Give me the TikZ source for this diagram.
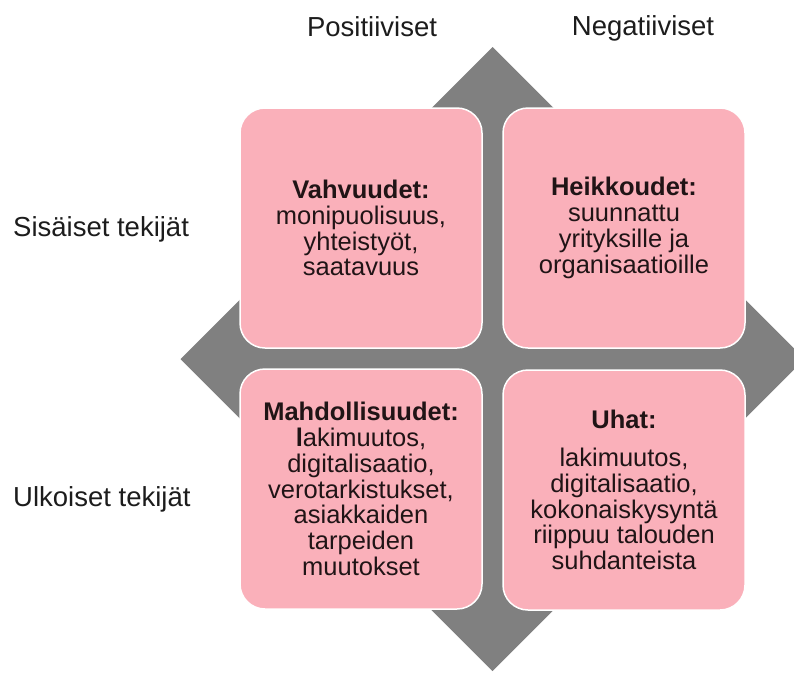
\documentclass[tikz,border=0pt]{standalone}
\usepackage{fontspec}
\setmainfont{Liberation Sans}
\definecolor{swotpink}{RGB}{250,176,186}
\definecolor{swotgray}{RGB}{128,128,128}
\definecolor{swottext}{RGB}{32,20,22}
\definecolor{labeltext}{RGB}{28,28,28}
\tikzset{
  swotbox/.style={draw=white, line width=1.5pt, fill=swotpink, rounded corners=25pt,
    minimum width=242pt, minimum height=240pt, inner sep=0pt, align=center,
    text=swottext, font=\fontsize{25.5}{25.8}\selectfont},
  sidelabel/.style={text=labeltext, inner sep=0pt, font=\fontsize{27.5}{30}\selectfont}
}
\begin{document}
\begin{tikzpicture}[x=1pt,y=-1pt]
\useasboundingbox (0,0) rectangle (794,673);
\clip (0,0) rectangle (794,673);
% gray diamond behind the boxes
\fill[swotgray] (492.5,47) -- (804.5,359) -- (492.5,671) -- (180.5,359) -- cycle;
% boxes
\node[swotbox] (s) at (361,228) {\textbf{Vahvuudet:}\\monipuolisuus,\\yhteistyöt,\\saatavuus};
\node[swotbox] (w) at (624,228) {\textbf{Heikkoudet:}\\suunnattu\\yrityksille ja\\organisaatioille};
\node[swotbox] (o) at (361,489) {\textbf{Mahdollisuudet:}\\\textbf{l}akimuutos,\\digitalisaatio,\\verotarkistukset,\\asiakkaiden\\tarpeiden\\muutokset};
\node[swotbox] (t) at (624,490) {\textbf{Uhat:}\\[12pt]lakimuutos,\\digitalisaatio,\\kokonaiskysyntä\\riippuu talouden\\suhdanteista};
% labels
\node[sidelabel, anchor=base] (pos) at (372,36) {Positiiviset};
\node[sidelabel, anchor=base] (neg) at (643,35) {Negatiiviset};
\node[sidelabel, anchor=base west] (int) at (13,236) {Sisäiset tekijät};
\node[sidelabel, anchor=base west] (ext) at (13,506) {Ulkoiset tekijät};
\end{tikzpicture}
\end{document}
